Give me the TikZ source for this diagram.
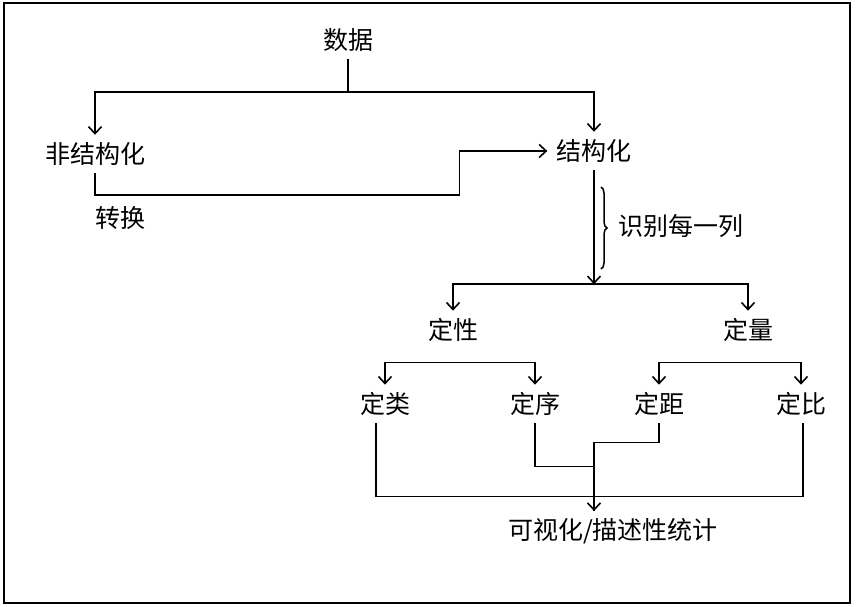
\documentclass[tikz,border=0pt]{standalone}
\usepackage{fontspec}
\newfontfamily\cjk{Noto Sans CJK SC}
\usepackage{tikz}
\usetikzlibrary{arrows.meta,decorations.pathreplacing}

\tikzset{
    lbl/.style={font=\cjk\fontsize{25}{30}\selectfont, inner xsep=2pt, inner ysep=7.5pt},
    flow/.style={line width=1.6pt, >={Straight Barb[length=7pt,width=13pt]}}
}

\begin{document}
\begin{tikzpicture}[x=1pt,y=-1pt]
    \useasboundingbox (0,0) rectangle (856,607);
    \draw[line width=2.5pt] (4,3) rectangle (850,603);

    % labels
    \node[lbl] (data) at (348,40) {数据};
    \node[lbl] (unstr) at (95,154) {非结构化};
    \node[lbl] (str) at (594,151) {结构化};
    \node[lbl] (conv) at (120,218) {转换};
    \node[lbl] (ident) at (681,226) {识别每一列};
    \node[lbl] (qual) at (453,330) {定性};
    \node[lbl] (quant) at (748,330) {定量};
    \node[lbl] (nom) at (385,404) {定类};
    \node[lbl] (ord) at (535,404) {定序};
    \node[lbl] (itv) at (659,404) {定距};
    \node[lbl] (rat) at (801,404) {定比};
    \node[lbl] (vis) at (613,531) {可视化/描述性统计};
    \coordinate (in) at (594,511);

    % data -> structured / unstructured
    \draw[flow] (data.south) -- ++(0,33) coordinate (split);
    \draw[flow,->] (split) -| (unstr.north);
    \draw[flow,->] (split) -| (str.north);
    \draw[flow,->,shorten >=7pt] (unstr.south) -- ++(0,22) -| ([xshift=-95pt]str.west) -- (str.west);

    % structured -> qualitative / quantitative
    \draw[flow,->] (str.south) -- ++(0,114) coordinate (split2);
    \draw[line width=1.5pt, decorate, decoration={brace,amplitude=6pt}] (601,187) -- (601,269);
    \draw[flow,<->] (qual.north) |- (split2) -| (quant.north);

    % four scales
    \draw[flow,<->] (nom.north) -- ++(0,-22) -| (ord.north);
    \draw[flow,<->] (itv.north) -- ++(0,-22) -| (rat.north);

    % merge into statistics
    \draw[flow] ([xshift=-9pt]nom.south) -- ++(0,73) -| ([xshift=2pt]rat.south);
    \draw[flow] (ord.south) -- ++(0,43) -| (in);
    \draw[flow,->] (itv.south) -- ++(0,19) -| (in);
\end{tikzpicture}
\end{document}
